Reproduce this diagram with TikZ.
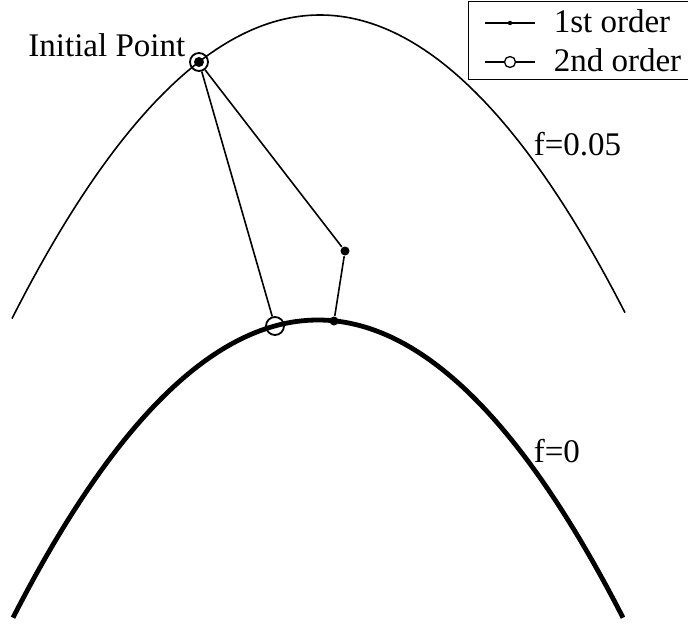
\documentclass[tikz,border=0pt]{standalone}
\usepackage{fontspec}
\setmainfont{Liberation Serif}
\usetikzlibrary{positioning}

\begin{document}
\begin{tikzpicture}[x=1pt,y=-1pt,
  dot/.style={circle,fill,inner sep=0pt,minimum size=10pt},
  ring/.style={circle,draw,line width=1.8pt,inner sep=0pt,minimum size=18pt},
  lbl/.style={font=\fontsize{33}{38}\selectfont,inner sep=0pt,anchor=base west},
  line width=1.6pt]
\useasboundingbox (0,0) rectangle (688,626);

% level curves
\draw[line width=1.6pt] plot[domain=12:625,samples=90,smooth] (\x,{15+32*((\x-320)/100)*((\x-320)/100)});
\draw[line width=4.8pt] plot[domain=13:623,samples=90,smooth] (\x,{320+32*((\x-318)/100)*((\x-318)/100)});

% iterates
\node[ring] (initring) at (199,62) {};
\node[dot] (init) at (199,62) {};
\node[dot,minimum size=9pt] (mid) at (345,251) {};
\node[dot,minimum size=9pt] (first) at (334,321) {};
\node[ring] (second) at (275,326) {};

\draw (initring) -- (mid);
\draw (mid) -- (first);
\draw (initring) -- (second);

% labels
\node[lbl,anchor=base east] (initlbl) at (186,57) {Initial Point};
\node[lbl] (f05) at (533,155) {f=0.05};
\node[lbl] (f0) at (533,462) {f=0};

% legend
\node[draw,line width=1.4pt,anchor=north west,minimum width=232pt,minimum height=78pt,inner sep=0pt] (legend) at (468,1) {};
\coordinate (k1a) at (485,23);
\coordinate (k1b) at (535,23);
\draw[line width=1.1pt] (k1a) -- (k1b);
\node[dot,minimum size=4.5pt] (k1dot) at (510,23) {};
\node[lbl] (k1txt) at (553,33) {1st order};
\coordinate (k2a) at (485,62);
\coordinate (k2b) at (535,62);
\node[ring,minimum size=11pt,line width=1.3pt] (k2ring) at (510,62) {};
\draw[line width=1.1pt] (k2a) -- (k2ring);
\draw[line width=1.1pt] (k2ring) -- (k2b);
\node[lbl] (k2txt) at (553,72) {2nd order};
\end{tikzpicture}
\end{document}
